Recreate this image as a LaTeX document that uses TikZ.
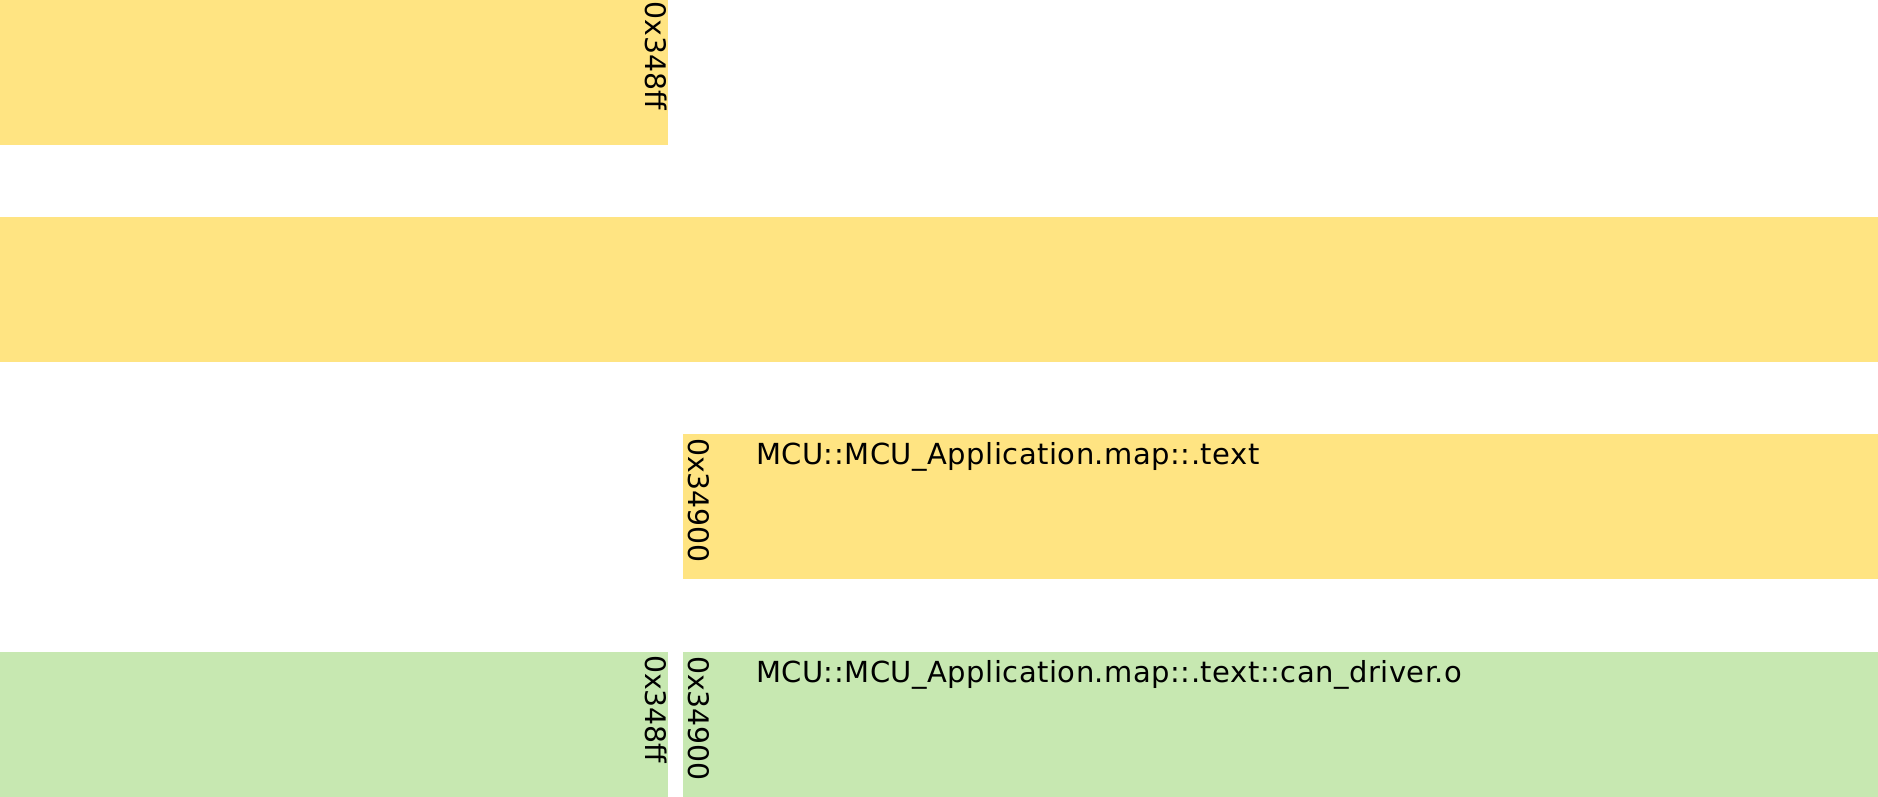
\documentclass[tikz,border=0pt]{standalone}
\usepackage{fontspec}
\setmainfont{DejaVu Sans}
\definecolor{segyellow}{HTML}{FFE482}
\definecolor{seggreen}{HTML}{C7E8B1}
\tikzset{
  seg/.style={inner sep=0pt, outer sep=0pt, draw=none, rectangle, anchor=north west},
  addr/.style={inner sep=0pt, outer sep=0pt, rotate=-90, font=\fontsize{28.3}{34}\selectfont},
  lbl/.style={inner sep=0pt, outer sep=0pt, anchor=base west, font=\fontsize{29}{35}\selectfont\addfontfeature{LetterSpace=1.7}},
}
\begin{document}
\begin{tikzpicture}[x=1pt, y=-1pt]
\useasboundingbox (0,0) rectangle (1878,797);
% segments
\node[seg, fill=segyellow, minimum width=668pt, minimum height=145pt] (r1) at (0,0) {};
\node[seg, fill=segyellow, minimum width=1878pt, minimum height=145pt] (r2) at (0,217) {};
\node[seg, fill=segyellow, minimum width=1195pt, minimum height=145pt] (r3) at (683,434) {};
\node[seg, fill=seggreen, minimum width=668pt, minimum height=145pt] (r4) at (0,652) {};
\node[seg, fill=seggreen, minimum width=1195pt, minimum height=145pt] (r5) at (683,652) {};
% address labels
\node[addr, anchor=north west] (a1) at ([xshift=-1pt, yshift=-2pt]r1.north east) {0x348ff};
\node[addr, anchor=base west] (a3) at ([xshift=5pt, yshift=-4pt]r3.north west) {0x34900};
\node[addr, anchor=north west] (a4) at ([xshift=-1pt, yshift=-3pt]r4.north east) {0x348ff};
\node[addr, anchor=base west] (a5) at ([xshift=5pt, yshift=-4pt]r5.north west) {0x34900};
% names
\node[lbl] (n3) at ([xshift=73pt, yshift=-30pt]r3.north west) {MCU::MCU\_Application.map::.text};
\node[lbl] (n5) at ([xshift=73pt, yshift=-30pt]r5.north west) {MCU::MCU\_Application.map::.text::can\_driver.o};
\end{tikzpicture}
\end{document}
